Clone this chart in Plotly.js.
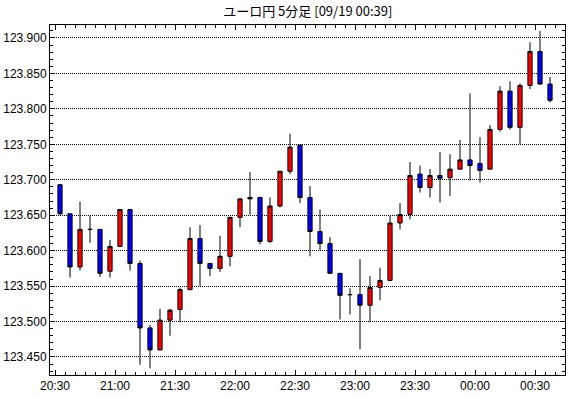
<!DOCTYPE html>
<html>
<head>
<meta charset="utf-8">
<script src="https://cdn.plot.ly/plotly-3.0.1.min.js"></script>
<style>html,body{margin:0;padding:0;background:#fff;}#chart{width:570px;height:398px;}</style>
</head>
<body>
<div id="chart"></div>
<script>
// 5-minute candles, 20:30 .. 00:35
const times = ["20:30","20:35","20:40","20:45","20:50","20:55","21:00","21:05","21:10","21:15",
  "21:20","21:25","21:30","21:35","21:40","21:45","21:50","21:55","22:00","22:05",
  "22:10","22:15","22:20","22:25","22:30","22:35","22:40","22:45","22:50","22:55",
  "23:00","23:05","23:10","23:15","23:20","23:25","23:30","23:35","23:40","23:45",
  "23:50","23:55","00:00","00:05","00:10","00:15","00:20","00:25","00:30","00:35"];
const openP = [123.693,123.652,123.577,123.630,123.630,123.571,123.606,123.658,123.582,123.491,
  123.460,123.502,123.517,123.545,123.617,123.582,123.575,123.592,123.647,123.673,
  123.675,123.613,123.663,123.712,123.749,123.675,123.627,123.610,123.568,123.538,
  123.538,123.523,123.548,123.558,123.639,123.651,123.708,123.689,123.706,123.703,
  123.715,123.728,123.723,123.715,123.771,123.825,123.774,123.833,123.881,123.835];
const highP = [123.694,123.652,123.669,123.649,123.630,123.615,123.658,123.658,123.586,123.495,
  123.518,123.518,123.548,123.633,123.636,123.582,123.621,123.647,123.674,123.711,
  123.676,123.675,123.712,123.765,123.749,123.691,123.658,123.619,123.568,123.547,
  123.588,123.564,123.576,123.649,123.667,123.725,123.720,123.715,123.739,123.736,
  123.756,123.822,123.760,123.777,123.832,123.839,123.836,123.894,123.910,123.845];
const lowP = [123.650,123.562,123.572,123.611,123.563,123.562,123.606,123.572,123.439,123.434,
  123.460,123.480,123.499,123.544,123.550,123.564,123.570,123.578,123.633,123.651,
  123.609,123.611,123.661,123.708,123.667,123.592,123.601,123.568,123.503,123.510,
  123.461,123.499,123.530,123.558,123.630,123.644,123.682,123.675,123.668,123.677,
  123.715,123.699,123.696,123.715,123.768,123.771,123.750,123.828,123.834,123.809];
const closeP = [123.652,123.577,123.630,123.630,123.568,123.606,123.658,123.582,123.491,123.460,
  123.502,123.516,123.545,123.617,123.582,123.575,123.592,123.647,123.673,123.675,
  123.613,123.663,123.712,123.746,123.675,123.627,123.610,123.568,123.537,123.538,
  123.523,123.548,123.558,123.639,123.651,123.706,123.689,123.706,123.702,123.715,
  123.728,123.720,123.713,123.771,123.825,123.774,123.833,123.881,123.835,123.812];
const xLabels = ["20:30","21:00","21:30","22:00","22:30","23:00","23:30","00:00","00:30"];
const yTicks = [123.45,123.50,123.55,123.60,123.65,123.70,123.75,123.80,123.85,123.90];

const idx = times.map((t, i) => i);
const xTickVals = xLabels.map(l => times.indexOf(l) - 0.5);

const trace = {
  type: 'candlestick',
  x: idx, open: openP, high: highP, low: lowP, close: closeP,
  text: times, hoverinfo: 'text+y',
  increasing: {line: {color: '#000', width: 1}, fillcolor: '#ff0000'},
  decreasing: {line: {color: '#000', width: 1}, fillcolor: '#0000ff'},
  whiskerwidth: 0
};

const font = {family: '"Liberation Sans", Arial, sans-serif', size: 12, color: '#000'};
const layout = {
  width: 570, height: 398,
  margin: {l: 50, r: 5, t: 25, b: 23},
  paper_bgcolor: '#fff', plot_bgcolor: '#fff',
  showlegend: false,
  font: font,
  title: {text: 'ユーロ円 5分足 [09/19 00:39]', x: 0.54, xanchor: 'center', y: 0.972, yanchor: 'middle',
    font: {family: '"Noto Sans CJK JP", sans-serif', size: 13, color: '#000'}},
  boxgap: 0.4,
  xaxis: {
    type: 'linear', range: [-1, 50.5], rangeslider: {visible: false},
    showgrid: false, zeroline: false,
    showline: true, linecolor: '#000', linewidth: 1, mirror: 'allticks',
    tickmode: 'array', tickvals: xTickVals, ticktext: xLabels,
    ticks: 'inside', ticklen: 5, tickcolor: '#000', tickwidth: 1,
    minor: {tickmode: 'linear', tick0: -0.5, dtick: 1, ticks: 'inside', ticklen: 3, tickcolor: '#000', showgrid: false},
    tickfont: font, fixedrange: true
  },
  yaxis: {
    range: [123.4246, 123.9183],
    showgrid: true, gridcolor: '#000', gridwidth: 1, griddash: '1px,1px',
    zeroline: false,
    showline: true, linecolor: '#000', linewidth: 1, mirror: 'allticks',
    tickmode: 'array', tickvals: yTicks, tickformat: '.3f',
    ticks: 'inside', ticklen: 5, tickcolor: '#000', tickwidth: 1,
    minor: {tickmode: 'linear', tick0: 123.40, dtick: 0.01, ticks: 'inside', ticklen: 3, tickcolor: '#000', showgrid: false},
    tickfont: font, fixedrange: true
  }
};

Plotly.newPlot('chart', [trace], layout, {staticPlot: true, displayModeBar: false});
</script>
</body>
</html>
